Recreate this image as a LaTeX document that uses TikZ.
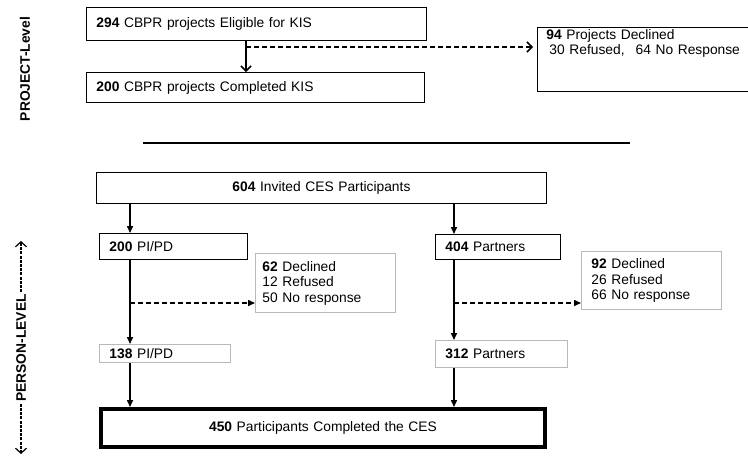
\documentclass[tikz,border=0pt]{standalone}
\usepackage{fontspec}
\setmainfont{Liberation Sans}
\usetikzlibrary{positioning}
\usetikzlibrary{calc}
\usetikzlibrary{arrows.meta}

\begin{document}
\begin{tikzpicture}[x=1pt, y=-1pt,
    box/.style={draw, line width=0.9pt, anchor=north west, inner xsep=10pt, inner ysep=2pt, align=left, font=\fontsize{13.8}{15.5}\selectfont},
    gbox/.style={box, draw=gray!55},
    lab/.style={rotate=90, inner sep=2pt, font=\bfseries\fontsize{13.8}{15}\selectfont},
    arr/.style={-{Straight Barb[length=5pt,width=10pt]}, line width=1.5pt},
    darr/.style={arr, dash pattern=on 5pt off 3pt},
    parr/.style={-{Triangle[length=7pt,width=6pt]}, line width=1.5pt},
    pdarr/.style={parr, dash pattern=on 5pt off 3pt},
    lvl/.style={-{Straight Barb[length=5pt,width=11pt]}, line width=1.2pt, dash pattern=on 3pt off 1.2pt}]
    \useasboundingbox (0,0) rectangle (748,461);

    % project level
    \node[lab] (projlev) at (25,69) {PROJECT-Level};
    \node[box, text width=320pt, minimum height=33pt] (elig) at (86,7) {\textbf{294} CBPR projects Eligible for KIS};
    \node[box, text width=318pt, minimum height=30pt] (kis) at (86,72) {\textbf{200} CBPR projects Completed KIS};
    \node[box, inner xsep=9pt, inner ysep=0pt, text width=200pt, text height=12pt, text depth=52pt] (projdecl) at (537,27)
        {\textbf{94} Projects Declined\\\hspace*{3pt}30 Refused,\hspace{11pt}64 No Response};
    \coordinate (k1) at (246,47);
    \draw[arr] (k1 |- elig.south) -- (k1 |- kis.north);
    \draw[darr, shorten >=4pt] (k1) -- (k1 -| projdecl.west);

    \draw[line width=1.3pt] (143,143) -- (630,143);

    % person level
    \node[lab] (perlev) at (21,348) {PERSON-LEVEL};
    \coordinate (ptop) at (21,241);
    \coordinate (pbot) at (21,454);
    \draw[lvl] (perlev.east) -- (ptop);
    \draw[lvl] (perlev.west) -- (pbot);

    \node[box, align=center, text width=430pt, minimum height=31pt] (invited) at (96,172) {\textbf{604} Invited CES Participants};
    \node[box, text width=128pt, minimum height=26pt] (pi) at (99,233) {\textbf{200} PI/PD};
    \node[box, text width=105pt, minimum height=25pt] (part) at (435,234) {\textbf{404} Partners};
    \node[gbox, inner xsep=7pt, text width=126pt, minimum height=59pt] (pideclined) at (255,253)
        {\textbf{62} Declined\\12 Refused\\50 No response};
    \node[gbox, text width=120pt, minimum height=58pt] (partdeclined) at (581,251)
        {\textbf{92} Declined\\26 Refused\\66 No response};
    \node[gbox, text width=111pt, minimum height=18pt] (pidone) at (99,344) {\textbf{138} PI/PD};
    \node[gbox, text width=112pt, minimum height=27pt] (partdone) at (435,340) {\textbf{312} Partners};
    \node[box, align=center, line width=4pt, text width=424pt, minimum height=38pt] (ces) at (99,407)
        {\textbf{450} Participants Completed the CES};

    \coordinate (lx) at (130,303);
    \coordinate (rx) at (454,303);
    \draw[parr] (lx |- invited.south) -- (lx |- pi.north);
    \draw[parr] (lx |- pi.south) -- (lx |- pidone.north);
    \draw[parr] (lx |- pidone.south) -- (lx |- ces.north);
    \draw[pdarr] (lx) -- (lx -| pideclined.west);
    \draw[parr] (rx |- invited.south) -- (rx |- part.north);
    \draw[parr] (rx |- part.south) -- (rx |- partdone.north);
    \draw[parr] (rx |- partdone.south) -- (rx |- ces.north);
    \draw[pdarr] (rx) -- (rx -| partdeclined.west);
\end{tikzpicture}
\end{document}
